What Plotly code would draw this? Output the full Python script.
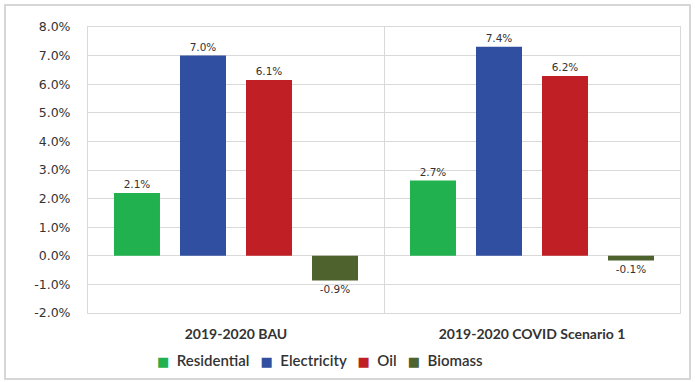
import plotly.graph_objects as go

scenarios = ["2019-2020 BAU", "2019-2020 COVID Scenario 1"]
series_names = ["Residential", "Electricity", "Oil", "Biomass"]
residential = [2.2, 2.63]
electricity = [7.0, 7.31]
oil = [6.15, 6.29]
biomass = [-0.86, -0.16]
residential_labels = ["2.1%", "2.7%"]
electricity_labels = ["7.0%", "7.4%"]
oil_labels = ["6.1%", "6.2%"]
biomass_labels = ["-0.9%", "-0.1%"]
y_ticks = [-2, -1, 0, 1, 2, 3, 4, 5, 6, 7, 8]
y_tick_labels = ["-2.0%", "-1.0%", "0.0%", "1.0%", "2.0%", "3.0%", "4.0%", "5.0%", "6.0%", "7.0%", "8.0%"]

colors = ["#21b14f", "#314fa0", "#c11f26", "#4e622d"]
values = [residential, electricity, oil, biomass]
labels = [residential_labels, electricity_labels, oil_labels, biomass_labels]

fig = go.Figure()
for name, vals, labs, col in zip(series_names, values, labels, colors):
    fig.add_trace(go.Bar(
        x=scenarios, y=vals, name=name, marker=dict(color=col, line=dict(width=0)),
        text=labs, textposition="outside", cliponaxis=False,
        textfont=dict(family="DejaVu Sans", size=10.5, color="#333333"),
        hoverinfo="skip", showlegend=False,
    ))

W, H = 695, 382
ml, mr, mt, mb = 88, 15, 27, 69
pw, ph = W - ml - mr, H - mt - mb

def px2x(px):
    return (px - ml) / pw

def py2y(py):
    return (H - mb - py) / ph

legend_text = "&nbsp;&nbsp;&nbsp;".join(
    f'<span style="color:{c};font-family:DejaVu Sans;font-size:13px">■</span>&nbsp;&nbsp;{n}'
    for n, c in zip(series_names, colors)
)

fig.update_layout(
    width=W, height=H,
    margin=dict(l=ml, r=mr, t=mt, b=mb, pad=0),
    paper_bgcolor="white", plot_bgcolor="white",
    barmode="group", bargap=0.108, bargroupgap=0.303,
    showlegend=False,
    xaxis=dict(type="category", tickson="boundaries", showgrid=True, gridcolor="#d9d9d9", gridwidth=1,
               showline=True, linecolor="#d9d9d9", linewidth=1, mirror=True, ticks="",
               ticklabelstandoff=8,
               tickfont=dict(family="Lato", size=14, color="#333333", weight="bold")),
    yaxis=dict(range=[-2, 8], tickvals=y_ticks, ticktext=y_tick_labels, showgrid=True,
               gridcolor="#d9d9d9", gridwidth=1, zeroline=True, zerolinecolor="#d9d9d9", zerolinewidth=1,
               showline=True, linecolor="#d9d9d9", linewidth=1, mirror=True, ticks="",
               ticklabelstandoff=14,
               tickfont=dict(family="DejaVu Sans", size=12.5, color="#333333")),
    font=dict(family="DejaVu Sans", color="#333333"),
    annotations=[dict(text=legend_text, xref="paper", yref="paper", x=px2x(320), y=py2y(360),
                      xanchor="center", yanchor="middle", showarrow=False,
                      font=dict(family="Lato", size=15, color="#333333", weight=600))],
    shapes=[dict(type="rect", xref="paper", yref="paper",
                 x0=px2x(5), x1=px2x(690), y0=py2y(379), y1=py2y(5),
                 line=dict(color="#d6d6d6", width=2), layer="below")],
)

fig.write_html("out.html")
